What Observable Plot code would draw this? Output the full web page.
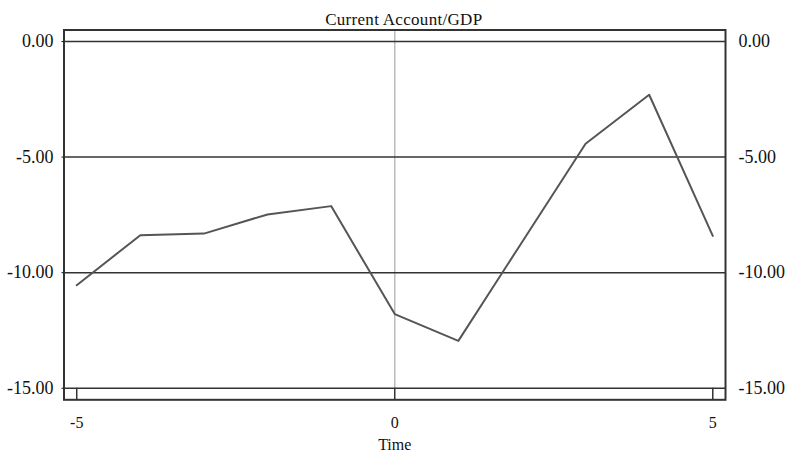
<!DOCTYPE html>
<html>
<head>
<meta charset="utf-8">
<script src="https://cdn.jsdelivr.net/npm/d3@7"></script>
<script src="https://cdn.jsdelivr.net/npm/@observablehq/plot@0.6"></script>
<style>
  html, body { margin: 0; padding: 0; background: #fff; }
  #chart svg { display: block; }
  #chart svg text { font-family: 'Liberation Serif', serif; }
</style>
</head>
<body>
<div id="chart"></div>
<script>
const times = [-5, -4, -3, -2, -1, 0, 1, 2, 3, 4, 5];
const values = [-10.54, -8.38, -8.31, -7.48, -7.12, -11.79, -12.95, -8.68, -4.42, -2.30, -8.41];
const yTicks = [0, -5, -10, -15];
const xTicks = [-5, 0, 5];
const title = "Current Account/GDP";
const xLabel = "Time";

const data = times.map((t, i) => ({t, v: values[i]}));
const fmt = d => d.toFixed(2);

const chart = Plot.plot({
  width: 786,
  height: 461,
  marginTop: 29.5,
  marginBottom: 61.7,
  marginLeft: 63.5,
  marginRight: 61,
  style: {fontFamily: "'Liberation Serif', serif", fontSize: "18px", color: "#111", background: "#fff"},
  x: {domain: [-5.2, 5.2]},
  y: {domain: [-15.5, 0.5]},
  marks: [
    Plot.ruleX([0], {y1: -15, y2: 0.5, stroke: "#bbb", strokeWidth: 1.5}),
    Plot.ruleY(yTicks, {stroke: "#333", strokeWidth: 1.5}),
    Plot.ruleX(xTicks, {y1: -15, y2: -15.5, stroke: "#333", strokeWidth: 1.5}),
    Plot.line(data, {x: "t", y: "v", stroke: "#555", strokeWidth: 2}),
    Plot.frame({stroke: "#333", strokeWidth: 2}),
    Plot.axisY(yTicks, {anchor: "left", tickFormat: fmt, tickSize: 2, tickPadding: 8.5, label: null, fontSize: 18}),
    Plot.axisY(yTicks, {anchor: "right", tickFormat: fmt, tickSize: 0, tickPadding: 13, label: null, fontSize: 18}),
    Plot.axisX(xTicks, {anchor: "bottom", tickFormat: d => String(d), tickSize: 0, tickPadding: 17, label: null, fontSize: 16}),
    Plot.text([xLabel], {frameAnchor: "bottom", dy: 50, text: d => d, fontSize: 16, fill: "#111"}),
    Plot.text([title], {frameAnchor: "top", dy: -17, dx: 9, text: d => d, fontSize: 17, fill: "#111"})
  ]
});
d3.select(chart).selectAll("text").filter(function() { return this.textContent === title; })
  .style("letter-spacing", "0.3px");
document.getElementById("chart").appendChild(chart);
</script>
</body>
</html>
